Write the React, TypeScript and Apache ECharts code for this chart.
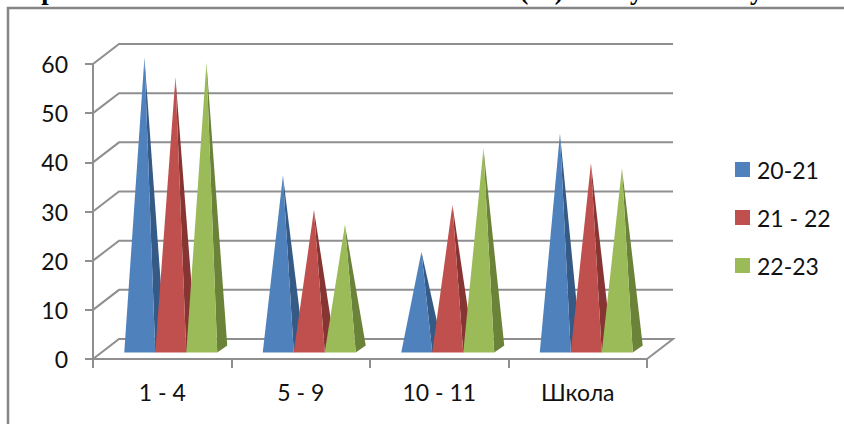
import React, { useEffect, useRef } from "react";
import * as echarts from "echarts";

const categories = ["1 - 4", "5 - 9", "10 - 11", "Школа"];
const seriesNames = ["20-21", "21 - 22", "22-23"];
const values2021 = [60, 36, 20.5, 44.5];
const values2122 = [56, 29, 30, 38.5];
const values2223 = [59, 26, 41.5, 37.5];
const gridTicks = [0, 10, 20, 30, 40, 50, 60];
const titleText = "Сравнительный анализ качества знаний (%) по ступеням обучения";

const frontColors = ["#4f81bd", "#c0504d", "#9bbb59"];
const sideColors = ["#355a86", "#863533", "#6b8239"];
const GREY = "#8f8f8f";

const DEPTH_X = 26;
const DEPTH_Y = 20;

function pyramid(s: number) {
  return (params: any, api: any) => {
    const idx = api.value(0);
    const top = api.coord([idx, api.value(1)]);
    const zero = api.coord([idx, 0]);
    const baseY = zero[1] - 6.5;
    const apexY = top[1] - 6.5;
    const left = zero[0] + 8.5 + (s - 1.5) * 31;
    const right = left + 31;
    const apexX = left + 15.5 + 4.7;
    return {
      type: "group",
      children: [
        {
          type: "polygon",
          shape: { points: [[right, baseY], [right + 10, baseY - 7], [apexX, apexY]] },
          style: { fill: sideColors[s] },
        },
        {
          type: "polygon",
          shape: { points: [[left, baseY], [right, baseY], [apexX, apexY]] },
          style: { fill: frontColors[s] },
        },
      ],
    };
  };
}

function wallLine(params: any, api: any) {
  const tick = api.value(0);
  const cs = params.coordSys;
  const y = api.coord([0, tick])[1];
  const x0 = cs.x;
  const x1 = cs.x + cs.width;
  const points =
    tick === 0
      ? [[x0, y], [x0 + DEPTH_X, y - DEPTH_Y], [x1 + DEPTH_X, y - DEPTH_Y], [x1, y]]
      : [[x0, y], [x0 + DEPTH_X, y - DEPTH_Y], [x1 + DEPTH_X, y - DEPTH_Y]];
  return {
    type: "polyline",
    shape: { points },
    style: { stroke: GREY, lineWidth: 2, fill: "none" },
  };
}

export default function App() {
  const ref = useRef<HTMLDivElement>(null);
  useEffect(() => {
    document.body.style.margin = "0";
    const chart = echarts.init(ref.current!, undefined, { renderer: "svg" });
    const allValues = [values2021, values2122, values2223];
    chart.setOption({
      animation: false,
      backgroundColor: "#ffffff",
      grid: { left: 93, right: 197, top: 64, bottom: 65 },
      legend: {
        orient: "vertical",
        left: 730,
        top: 153,
        icon: "rect",
        itemWidth: 15,
        itemHeight: 15,
        itemGap: 25,
        data: seriesNames,
        textStyle: { fontFamily: "Lato", fontSize: 23, color: "#111111", padding: [0, 0, 0, 2] },
      },
      xAxis: {
        type: "category",
        data: categories,
        axisLine: { lineStyle: { color: GREY, width: 2 } },
        axisTick: { show: true, alignWithLabel: false, length: 9, lineStyle: { color: GREY, width: 2 } },
        axisLabel: { fontFamily: "Lato", fontSize: 23, color: "#111111", margin: 21 },
        splitLine: { show: false },
      },
      yAxis: {
        type: "value",
        min: 0,
        max: 60,
        interval: 10,
        axisLine: { show: true, lineStyle: { color: GREY, width: 2 } },
        axisTick: { show: true, length: 8, lineStyle: { color: GREY, width: 2 } },
        axisLabel: { fontFamily: "Lato", fontSize: 23, color: "#111111", margin: 25 },
        splitLine: { show: false },
      },
      graphic: [
        {
          type: "polyline",
          shape: { points: [[8, 424], [8, 8], [844, 8]] },
          style: { stroke: "#858585", lineWidth: 2.5, fill: "none" },
          silent: true,
        },
        {
          type: "text",
          x: 22,
          y: 3,
          style: {
            text: titleText,
            font: "bold 26.5px 'Liberation Serif'",
            fill: "#000000",
            verticalAlign: "bottom",
          },
          silent: true,
        },
      ],
      series: [
        {
          type: "custom",
          name: "walls",
          data: gridTicks.map((t) => [t]),
          encode: { y: 0 },
          clip: false,
          z: 1,
          silent: true,
          renderItem: wallLine,
        },
        ...seriesNames.map((name, s) => ({
          type: "custom",
          name,
          z: 2 + s,
          clip: false,
          itemStyle: { color: frontColors[s] },
          data: allValues[s].map((v, i) => [i, v]),
          encode: { x: 0, y: 1 },
          renderItem: pyramid(s),
        })),
      ],
    });
    return () => chart.dispose();
  }, []);
  return <div ref={ref} style={{ width: 844, height: 424 }} />;
}
